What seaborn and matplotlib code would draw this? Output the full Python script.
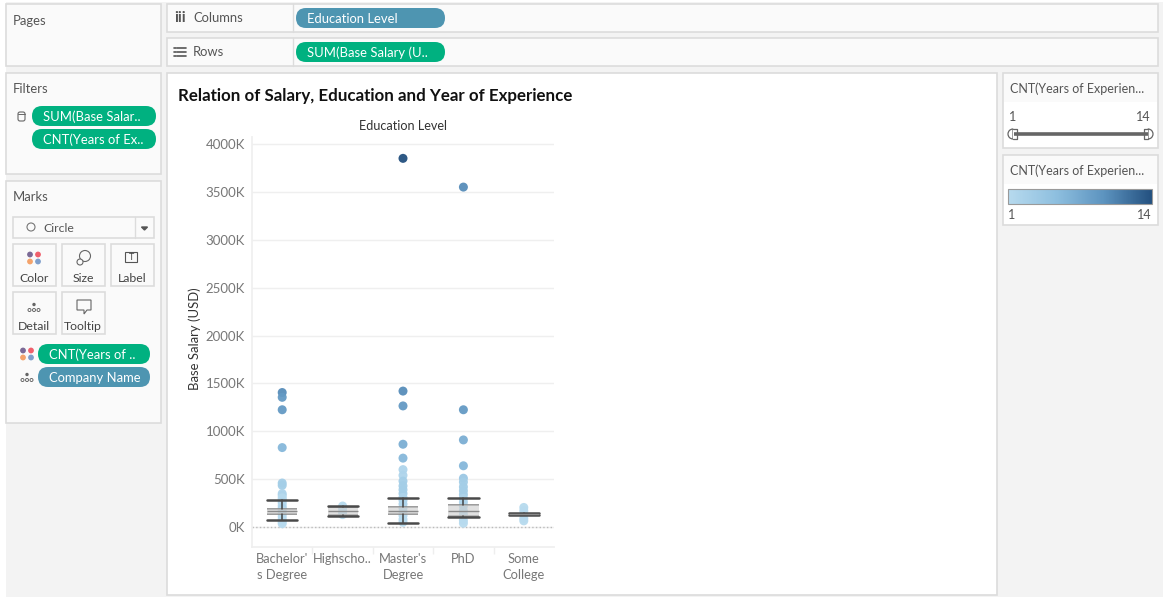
import matplotlib
matplotlib.use('Agg')
import matplotlib.pyplot as plt
import numpy as np
import pandas as pd
import seaborn as sns
from matplotlib.cm import ScalarMappable
from matplotlib.colors import LinearSegmentedColormap, Normalize
from matplotlib.patches import Circle, FancyBboxPatch, Polygon, Rectangle, Wedge

categorias = ["Bachelor's Degree", 'Highschool', "Master's Degree", 'PhD', 'Some College']
etiquetas = ["Bachelor'\ns Degree", 'Highscho..', "Master's\nDegree", 'PhD', 'Some\nCollege']

# salario en miles, conteo de años de experiencia por punto
bachelor_sal = [1405, 1355, 1225, 830, 460, 435, 350, 330, 305, 285, 255, 225, 200, 170, 140, 110, 80, 55, 35]
bachelor_cnt = [10, 9, 9, 6, 3, 3, 2, 2, 1, 1, 2, 1, 2, 1, 1, 1, 1, 1, 1]
high_sal = [220, 195, 160, 130]
high_cnt = [1, 1, 1, 1]
master_sal = [3850, 1420, 1265, 865, 720, 600, 540, 480, 430, 390, 350, 310, 280, 240, 200, 160, 120, 80, 50]
master_cnt = [14, 10, 9, 7, 6, 2, 2, 3, 3, 3, 3, 2, 2, 2, 2, 1, 1, 1, 1]
phd_sal = [3550, 1225, 910, 640, 510, 470, 420, 380, 340, 300, 260, 220, 170, 130, 70, 40]
phd_cnt = [10, 9, 7, 6, 4, 3, 3, 3, 3, 2, 2, 2, 2, 1, 1, 1]
some_sal = [205, 170, 90, 65]
some_cnt = [1, 1, 1, 1]

# caja: bigote bajo, q1, mediana, q3, bigote alto
cajas = [
    [70, 136, 165, 192, 280],
    [120, 127, 170, 212, 220],
    [45, 136, 170, 213, 305],
    [108, 112, 171, 231, 305],
    [123, 128, 133, 138, 143],
]

y_ticks = [0, 500, 1000, 1500, 2000, 2500, 3000, 3500, 4000]

sals = [bachelor_sal, high_sal, master_sal, phd_sal, some_sal]
cnts = [bachelor_cnt, high_cnt, master_cnt, phd_cnt, some_cnt]
filas = []
for cat, s, c in zip(categorias, sals, cnts):
    for a, b in zip(s, c):
        filas.append({'Education Level': cat, 'Salary': a, 'Cnt': b})
datos = pd.DataFrame(filas)

sns.set_theme(style='white')
plt.rcParams['font.family'] = ['Lato', 'DejaVu Sans']

W, H = 1169, 605
fig = plt.figure(figsize=(W / 100, H / 100), dpi=100, facecolor='white')

# capa de fondo en pixeles para los paneles
bg = fig.add_axes([0, 0, 1, 1], zorder=0)
bg.set_xlim(0, W)
bg.set_ylim(H, 0)
bg.axis('off')

GRIS = '#555555'
VERDE = '#00b180'
AZUL = '#4e95b1'
BORDE = '#dcdcdc'


def caja(x0, y0, x1, y1, fc='#fafafa', ec=BORDE, lw=1.2):
    bg.add_patch(Rectangle((x0, y0), x1 - x0, y1 - y0, fc=fc, ec=ec, lw=lw))


def pastilla(x0, y0, x1, y1, texto, color):
    r = (y1 - y0) / 2
    bg.add_patch(FancyBboxPatch((x0 + r, y0 + r), x1 - x0 - 2 * r, 0,
                                boxstyle='round,pad=%f,rounding_size=%f' % (r, r),
                                fc=color, ec='none', mutation_aspect=1))
    bg.text(x0 + 11, (y0 + y1) / 2, texto, color='white', fontsize=9.4, va='center_baseline')


def rotulo(x, y, texto, size=9.4, color=GRIS, **kw):
    bg.text(x, y + 1, texto, fontsize=size, color=color, va='center', **kw)


def puntos_color(cx, cy):
    for dx, dy, col in [(-4, -3.5, '#7b6a96'), (4, -3.5, '#f0606c'), (-4, 3.5, '#f4a36b'), (4, 3.5, '#7f9fcb')]:
        bg.add_patch(Circle((cx + dx, cy + dy), 2.9, fc=col, ec='none'))


def puntos_detalle(cx, cy):
    bg.add_patch(Circle((cx, cy - 3.5), 1.7, fc='#666666', ec='none'))
    for dx in (-4.5, 0, 4.5):
        bg.add_patch(Circle((cx + dx, cy + 2), 1.5, fc='white', ec='#666666', lw=0.7))


bg.add_patch(Rectangle((6, 2), 1157, 595, fc='#f3f3f3', ec='none'))

# paneles izquierda
caja(6, 4, 161, 66)
rotulo(13, 20, 'Pages')
caja(6, 73, 161, 174)
rotulo(13, 88, 'Filters')
caja(6, 181, 161, 423)
rotulo(13, 196, 'Marks')

# estantes
for y0, y1, nombre in [(4, 32, 'Columns'), (38, 66, 'Rows')]:
    caja(167, y0, 1158, y1)
    bg.plot([293, 293], [y0, y1], color=BORDE, lw=1)
    rotulo(193, (y0 + y1) / 2 - 0.5, nombre)
rotulo(174, 17, 'iii', size=11, color='#555555', fontweight='bold')
for dy in (-4, 0, 4):
    bg.plot([177, 186], [52 + dy, 52 + dy], color='#555555', lw=1.2)
    bg.plot([174, 175.5], [52 + dy, 52 + dy], color='#555555', lw=1.2)
pastilla(296, 8, 445, 28, 'Education Level', AZUL)
pastilla(296, 42, 445, 62, 'SUM(Base Salary (U..', VERDE)

# filtros
bg.add_patch(FancyBboxPatch((18, 112), 7, 9, boxstyle='round,pad=0,rounding_size=2', fc='none', ec='#666666', lw=0.8))
bg.plot([18, 25], [114, 114], color='#666666', lw=0.7)
pastilla(32, 106, 156, 126, 'SUM(Base Salar..', VERDE)
pastilla(32, 129, 156, 149, 'CNT(Years of Ex..', VERDE)

# marcas
caja(13, 217, 154, 238, fc='#fafafa')
bg.plot([135, 135], [217, 238], color=BORDE, lw=1)
bg.add_patch(Circle((31, 227), 4, fc='none', ec='#777777', lw=0.8))
rotulo(43, 227, 'Circle', size=8.8)
bg.fill([141.5, 147.5, 144.5], [227, 227, 230], color='#555555')
botones = [(13, 244, 'Color'), (62, 244, 'Size'), (111, 244, 'Label'), (13, 292, 'Detail'), (62, 292, 'Tooltip')]
for x, y, nombre in botones:
    caja(x, y, x + 43, y + 42, fc='#fafafa')
    bg.text(x + 21, y + 34, nombre, fontsize=8.8, color='#444444', ha='center', va='center')
puntos_color(34, 258)
bg.add_patch(Circle((85, 256), 5.5, fc='none', ec='#666666', lw=0.8))
bg.add_patch(Circle((80, 262), 3, fc='#fafafa', ec='#666666', lw=0.8))
bg.add_patch(Rectangle((125, 252), 12, 10, fc='none', ec='#555555', lw=0.8))
bg.text(131, 257, 'T', fontsize=6.5, color='#444444', ha='center', va='center')
puntos_detalle(34, 308)
bg.add_patch(Polygon([(77, 300), (91, 300), (91, 310), (87, 310), (84, 314), (84, 310), (77, 310)],
                     fc='none', ec='#666666', lw=0.8))
pastilla(38, 344, 150, 364, 'CNT(Years of ..', VERDE)
pastilla(38, 367, 150, 387, 'Company Name', AZUL)
puntos_color(27, 354)
puntos_detalle(27, 378)

# hoja principal
caja(167, 73, 997, 595, fc='white')
bg.text(178, 96, 'Relation of Salary, Education and Year of Experience', fontsize=12.15,
        fontweight='bold', color='#111111', va='center')
bg.text(403, 126, 'Education Level', fontsize=9.1, color='#333333', ha='center', va='center')
bg.text(195, 339, 'Base Salary (USD)', fontsize=9.4, color='#333333', rotation=90, ha='center', va='center')

# paneles derecha
azules = LinearSegmentedColormap.from_list('azules', ['#b7daee', '#8ebfdf', '#5c93bf', '#23507f'])
norma = Normalize(1, 14)
caja(1003, 73, 1158, 148, fc='white')
bg.add_patch(Rectangle((1004, 74), 153, 28, fc='#fafafa', ec='none'))
rotulo(1010, 88, 'CNT(Years of Experien...', size=9)
rotulo(1009, 116, '1', size=9)
rotulo(1151, 116, '14', size=9, ha='right')
bg.plot([1014, 1148], [134, 134], color='#666666', lw=2.6, solid_capstyle='butt')
bg.add_patch(Wedge((1013, 134), 5, 90, 270, fc='white', ec='#666666', lw=0.9))
bg.add_patch(Rectangle((1013, 129), 4, 10, fc='white', ec='none'))
bg.plot([1013, 1017, 1017, 1013], [129, 129, 139, 139], color='#666666', lw=0.9)
bg.add_patch(Wedge((1148, 134), 5, 270, 90, fc='white', ec='#666666', lw=0.9))
bg.add_patch(Rectangle((1144, 129), 4, 10, fc='white', ec='none'))
bg.plot([1148, 1144, 1144, 1148], [129, 129, 139, 139], color='#666666', lw=0.9)
caja(1003, 155, 1158, 225, fc='white')
bg.add_patch(Rectangle((1004, 156), 153, 28, fc='#fafafa', ec='none'))
rotulo(1010, 170, 'CNT(Years of Experien...', size=9)
rotulo(1008, 214, '1', size=9)
rotulo(1152, 214, '14', size=9, ha='right')

cax = fig.add_axes([1008 / W, 1 - 204 / H, 144 / W, 15 / H], zorder=2)
fig.colorbar(ScalarMappable(norm=norma, cmap=azules), cax=cax, orientation='horizontal')
cax.set_xticks([])
for s in cax.spines.values():
    s.set_edgecolor('#9a9a9a')
    s.set_linewidth(0.8)

# grafico
ax = fig.add_axes([252 / W, 1 - 547 / H, 302 / W, 410 / H], zorder=2)
ax.patch.set_alpha(0)
sns.scatterplot(data=datos, x='Education Level', y='Salary', hue='Cnt', hue_norm=norma, palette=azules,
                s=42, linewidth=0, alpha=0.95, legend=False, ax=ax, zorder=2)

# bordes de la caja solo arriba y abajo, debajo de los topes
for i, c in enumerate(cajas):
    ax.hlines([c[1], c[3]], i - 0.25, i + 0.25, color='#8a8a8a', lw=1.2, zorder=2.5)

stats = []
for c in cajas:
    stats.append({'whislo': c[0], 'q1': c[1], 'med': c[2], 'q3': c[3], 'whishi': c[4], 'fliers': []})
ax.bxp(stats, positions=range(5), widths=0.5, patch_artist=True, showfliers=False, manage_ticks=False,
       boxprops=dict(facecolor='#cccccc', edgecolor='none', alpha=0.6),
       medianprops=dict(color='#8a8a8a', linewidth=1.0),
       whiskerprops=dict(color='#444444', linewidth=1.1),
       capprops=dict(color='#4a4a4a', linewidth=1.8), capwidths=0.5, zorder=3)

ax.set_xlim(-0.5, 4.5)
ax.set_ylim(-208, 4073)
ax.set_xlabel('')
ax.set_ylabel('')
ax.set_yticks(y_ticks)
ax.set_yticklabels(['%dK' % v for v in y_ticks], fontsize=9.5, color='#777777')
ax.set_xticks(range(5))
ax.set_xticklabels(etiquetas, fontsize=9.3, color='#777777', linespacing=1.45)
ax.set_xticks(np.arange(0.5, 4.5, 1), minor=True)
ax.tick_params(axis='x', which='major', length=0, pad=4)
ax.tick_params(axis='x', which='minor', length=5, color='#eeeeee', bottom=True)
ax.tick_params(axis='y', length=0, pad=5)
ax.grid(axis='y', color='#efefef', lw=1)
ax.set_axisbelow(True)
ax.axhline(0, color='#bbbbbb', lw=1, ls=':', zorder=1)
sns.despine(ax=ax, top=True, right=True)
ax.spines['left'].set_color('#efefef')
ax.spines['bottom'].set_color('#efefef')

fig.savefig('out.png', dpi=100)
